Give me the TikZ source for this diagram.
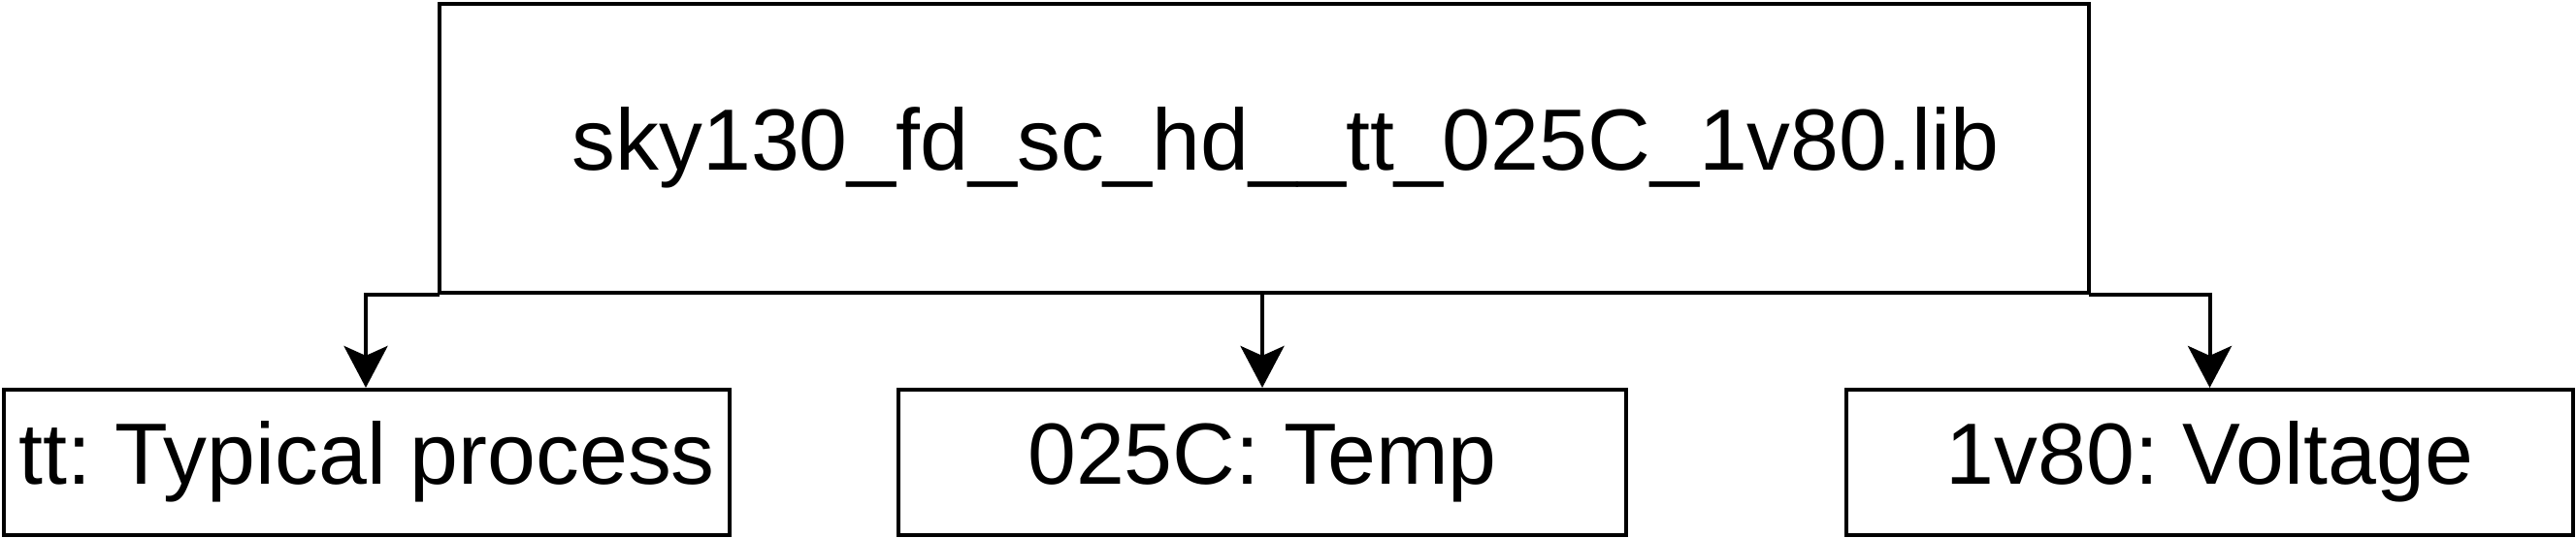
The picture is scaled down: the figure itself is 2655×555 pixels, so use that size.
\documentclass[tikz,border=0pt]{standalone}
\usepackage{fontspec}
\setmainfont{Liberation Sans}
\usetikzlibrary{arrows.meta}
\frenchspacing
\begin{document}
\begin{tikzpicture}[x=0.01cm,y=-0.01cm,
  box/.style={draw=black, line width=0.04cm, fill=white, inner sep=0pt, minimum height=1.5cm, minimum width=7.48cm},
  txt/.style={font=\fontsize{25.5}{30}\selectfont, inner sep=0pt, text height=19pt, text depth=6pt},
  conn/.style={draw=black, line width=0.04cm, line cap=rect, -{Stealth[length=0.43cm, width=0.45cm, inset=0.1cm]}}]
\useasboundingbox (0,0) rectangle (2655,555);
\node[box, minimum width=16.99cm, minimum height=2.98cm] (lib) at (1302.5,153) {};
\node[txt] (libtext) at (1325,153) {sky130\_fd\_sc\_hd\_\_tt\_025C\_1v80.lib};
\node[box, txt, minimum width=7.48cm] (tt) at (378,477) {tt: Typical process};
\node[box, txt, minimum width=7.50cm] (temp) at (1301,477) {025C: Temp};
\node[box, txt, minimum width=7.49cm] (volt) at (2277.5,477) {1v80: Voltage};
\draw[conn] (lib.south west) -| (tt.north -| 377,0);
\draw[conn] (lib.south -| temp.north) -- (temp.north);
\draw[conn] (lib.south east) -| (volt.north);
\end{tikzpicture}
\end{document}
